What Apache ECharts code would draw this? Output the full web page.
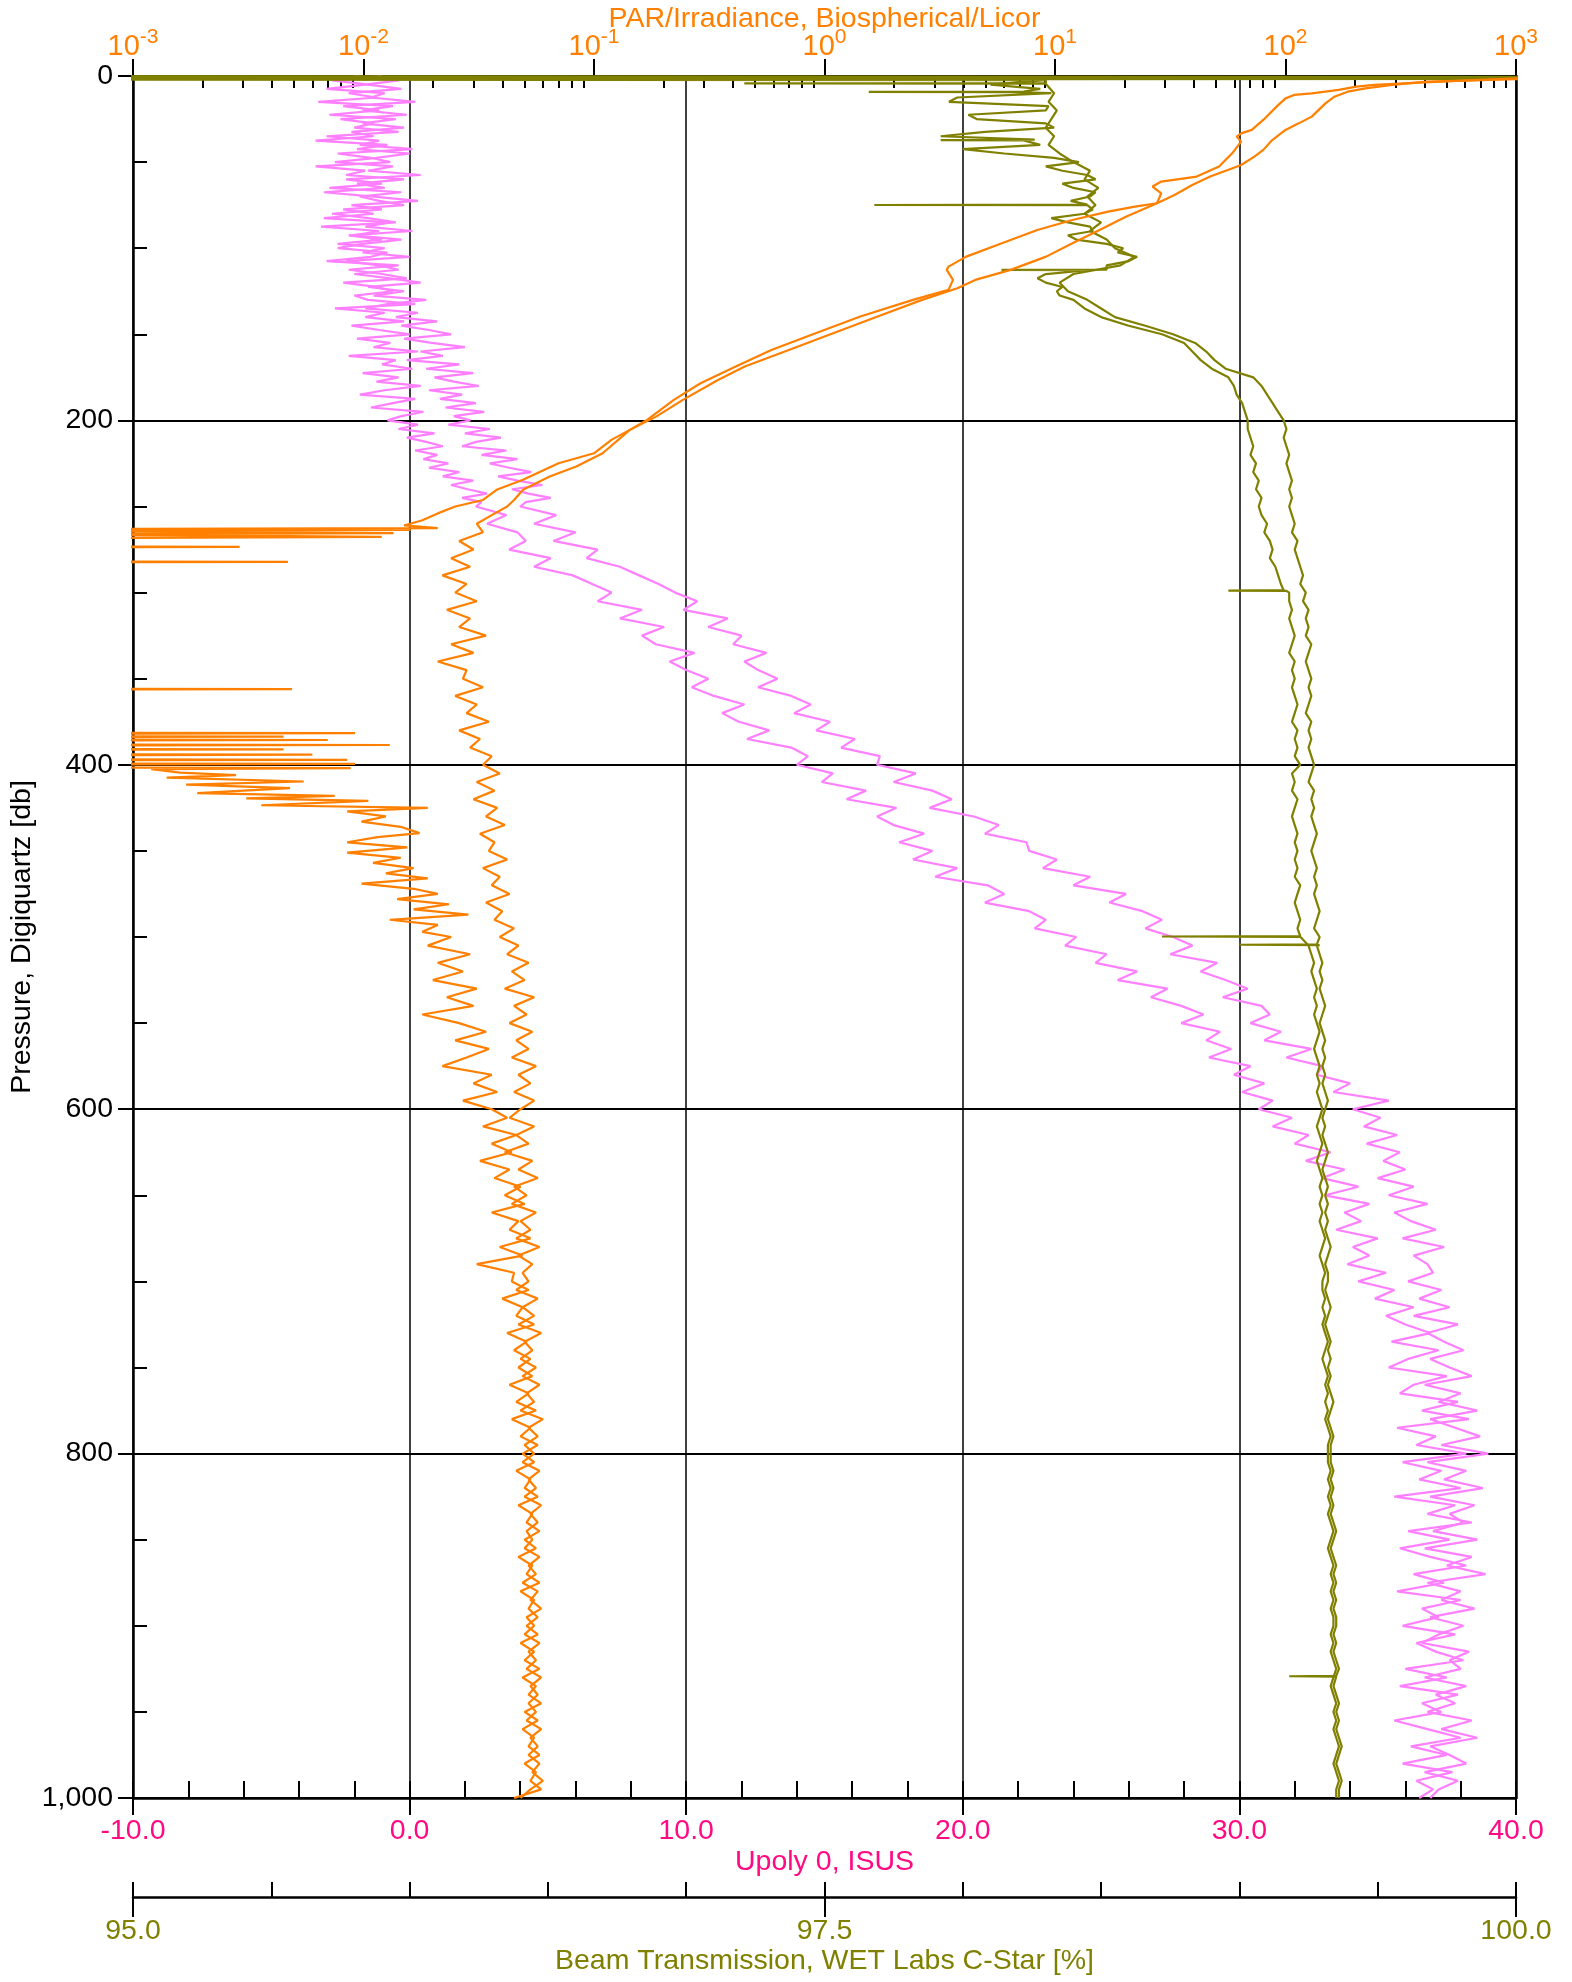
<!DOCTYPE html>
<html><head><meta charset="utf-8">
<script src="https://cdn.jsdelivr.net/npm/echarts@6/dist/echarts.min.js"></script>
<style>html,body{margin:0;padding:0;background:#fff}#c{width:1572px;height:1982px}</style>
</head><body><div id="c"></div><script>
// ---------------- DATA ----------------
const depth5 = [0,5,10,15,20,25,30,35,40,45,
50,55,60,65,70,75,80,85,90,95,
100,105,110,115,120,125,130,135,140,145,
150,155,160,165,170,175,180,185,190,195,
200,205,210,215,220,225,230,235,240,245,
250,255,260,265,270,275,280,285,290,295,
300,305,310,315,320,325,330,335,340,345,
350,355,360,365,370,375,380,385,390,395,
400,405,410,415,420,425,430,435,440,445,
450,455,460,465,470,475,480,485,490,495,
500,505,510,515,520,525,530,535,540,545,
550,555,560,565,570,575,580,585,590,595,
600,605,610,615,620,625,630,635,640,645,
650,655,660,665,670,675,680,685,690,695,
700,705,710,715,720,725,730,735,740,745,
750,755,760,765,770,775,780,785,790,795,
800,805,810,815,820,825,830,835,840,845,
850,855,860,865,870,875,880,885,890,895,
900,905,910,915,920,925,930,935,940,945,
950,955,960,965,970,975,980,985,990,995,
1000];
const depthTop = [0,2.5,5,7.5,10,12.5,15,17.5,20,22.5,
25,27.5,30,32.5,35,37.5,40,42.5,45,47.5,
50,52.5,55,57.5,60,62.5,65,67.5,70,72.5,
75,77.5,80,82.5,85,87.5,90,92.5,95,97.5,
100,102.5,105,107.5,110,112.5,115,117.5,120,122.5,
125,127.5,130,132.5,135,137.5,140,142.5,145,147.5,
150,152.5,155,157.5,160,162.5,165,167.5,170,172.5,
175,177.5,180,182.5,185,187.5,190,192.5,195,197.5,
200,202.5,205,207.5,210,212.5,215,217.5,220,222.5,
225,227.5,230,232.5,235,237.5,240,242.5,245,247.5];

// Upoly 0, ISUS, two casts: 0-247.5 db at depthTop, 250-1000 db at depth5
const upolyL_top = [-1.0,-2.8,-1.5,-0.3,-2.2,-1.2,-3.3,-0.6,-1.7,-0.1,
-2.5,-1.3,-2.0,-0.4,-3.0,-1.1,-1.8,0.1,-2.6,-1.4,
-0.7,-3.4,-1.6,-2.3,-0.2,-1.9,-0.9,-3.1,-1.3,0.3,
-2.1,-1.0,-2.8,-1.5,-0.5,-3.2,-1.1,-2.0,-0.3,-1.7,
-2.6,-0.8,-1.4,-3.0,-0.4,-2.2,-1.0,-0.1,-2.4,-1.2,
-0.6,-2.0,-1.5,0.2,-2.7,-0.9,-1.6,-0.2,-2.1,-1.1,
0.0,-1.9,-0.7,-1.3,0.3,-2.2,-0.5,-1.0,0.1,-1.7,
-0.4,-1.2,0.4,-0.9,-1.8,0.2,-0.6,-1.4,0.5,-0.3,
-0.8,0.3,-0.4,0.9,-0.1,0.6,1.2,0.2,1.0,0.5,
1.4,0.7,1.8,1.2,2.3,1.5,2.1,2.8,1.9,2.6];
const upolyL_deep = [2.4,3.5,2.8,3.9,4.2,3.6,5.1,4.5,5.9,6.6,
7.3,6.8,8.4,7.6,9.2,8.4,8.9,10.3,9.4,10.0,
10.8,10.2,11.0,12.1,11.3,11.9,13.0,12.2,13.8,14.4,
14.0,15.3,14.9,16.5,15.8,17.6,16.9,17.5,18.6,17.7,
18.9,18.2,19.8,19.0,20.9,21.5,20.8,22.4,23.0,22.6,
24.1,23.7,25.2,24.8,26.3,25.6,27.4,26.8,27.9,28.7,
27.9,29.3,28.8,29.7,28.9,30.4,29.8,30.9,30.1,31.2,
30.7,31.9,31.2,32.5,32.0,33.3,32.4,33.8,33.0,34.3,
33.1,34.7,33.8,34.4,33.5,35.0,34.1,34.7,33.9,35.3,
34.3,35.6,34.9,36.3,35.3,36.0,36.9,35.5,37.2,36.1,
35.4,37.5,36.3,35.8,37.9,36.6,38.3,35.7,37.1,36.4,
38.2,35.9,37.3,36.5,38.0,35.6,37.8,36.8,38.4,36.1,
37.6,35.8,36.9,38.2,36.3,37.4,35.7,38.0,36.6,37.2,
35.9,37.8,36.4,37.1,38.1,36.0,37.5,35.8,37.9,36.6,
37.3,35.6,36.8,38.0,36.2,37.5,35.9,37.7,36.4,37.0,
36.5];
const upolyR_top = [-2.0,-0.4,-1.6,-3.0,-0.9,-1.4,0.2,-2.4,-1.1,-2.9,
-0.5,-1.7,-0.2,-2.1,-1.3,-3.4,-0.8,-1.9,0.0,-1.2,
-2.7,-0.6,-1.5,0.4,-2.3,-1.0,-2.9,-0.3,-1.8,-1.1,
-0.2,-2.4,-1.3,-3.1,-0.7,-1.6,0.1,-2.2,-1.0,-2.6,
-0.9,-1.7,0.0,-2.3,-1.1,-0.4,-2.0,-0.7,0.4,-1.5,
-0.2,-1.3,0.6,-0.8,-1.6,0.3,-0.5,1.0,-0.3,0.7,
1.5,-0.2,0.8,2.0,0.4,1.2,-0.1,1.8,0.6,2.3,
0.9,1.6,2.5,0.7,1.9,1.1,2.4,1.3,2.7,1.6,
2.2,1.4,2.9,2.0,3.3,2.4,1.9,3.5,2.6,3.9,
2.9,3.6,4.4,3.2,3.9,4.8,3.7,4.3,5.1,4.2];
const upolyR_deep = [4.0,5.3,4.5,6.0,5.2,6.8,6.4,7.6,8.3,9.0,
9.6,10.4,9.9,11.5,10.8,12.0,11.7,12.9,12.1,12.6,
13.3,12.6,13.8,14.5,13.9,15.2,14.7,16.1,15.6,17.0,
16.9,18.3,17.5,18.9,19.6,18.8,20.4,21.3,20.8,22.3,
22.4,23.4,22.9,24.6,24.0,25.9,25.3,26.5,27.2,26.6,
27.6,28.3,27.5,29.2,28.6,29.5,30.3,29.4,30.8,31.1,
30.4,31.5,30.9,32.6,31.7,33.0,32.8,34.0,33.4,35.4,
34.1,35.1,34.5,35.7,34.6,35.8,35.2,36.0,35.0,36.3,
35.4,36.8,35.6,36.2,37.1,35.9,37.4,36.3,36.8,37.0,
36.1,37.3,36.5,37.6,36.3,37.9,36.8,37.4,38.1,36.9,
37.6,38.4,36.7,38.0,37.2,38.6,36.9,37.8,38.7,37.3,
39.0,36.8,38.2,37.4,38.8,36.9,38.5,37.6,38.1,37.0,
38.6,36.7,38.4,37.5,38.9,36.8,38.0,37.3,38.5,36.9,
38.1,37.2,36.6,38.3,37.6,38.0,36.7,38.2,37.1,37.8,
36.8,38.4,37.3,38.6,36.9,37.6,38.2,36.7,37.9,37.2,
36.9];

// Beam transmission [%], values at depth5 from 5 db down
const beamL = [98.10,98.32,97.95,98.30,98.05,98.33,97.92,98.28,98.15,98.42,
98.36,98.48,98.40,98.46,98.45,98.44,98.38,98.47,98.41,98.58,
98.63,98.52,98.30,98.30,98.34,98.40,98.44,98.50,98.60,98.72,
98.80,98.83,98.86,98.90,98.96,98.98,98.99,99.01,99.02,99.03,
99.03,99.04,99.05,99.04,99.06,99.05,99.07,99.06,99.08,99.07,
99.08,99.10,99.09,99.11,99.12,99.11,99.13,99.14,99.15,99.18,
99.18,99.19,99.18,99.19,99.20,99.19,99.18,99.20,99.19,99.20,
99.19,99.20,99.21,99.20,99.19,99.21,99.20,99.21,99.20,99.22,
99.19,99.20,99.19,99.21,99.20,99.19,99.20,99.21,99.20,99.21,
99.20,99.21,99.20,99.22,99.21,99.20,99.21,99.22,99.21,99.22,
99.25,99.26,99.27,99.26,99.27,99.28,99.27,99.28,99.27,99.28,
99.29,99.28,99.27,99.28,99.29,99.28,99.29,99.28,99.29,99.30,
99.29,99.28,99.29,99.30,99.29,99.28,99.29,99.30,99.29,99.30,
99.29,99.30,99.29,99.30,99.31,99.30,99.29,99.30,99.31,99.30,
99.30,99.31,99.30,99.31,99.30,99.31,99.32,99.31,99.30,99.31,
99.32,99.31,99.32,99.31,99.32,99.31,99.32,99.33,99.32,99.32,
99.32,99.33,99.32,99.33,99.32,99.33,99.32,99.33,99.34,99.33,
99.32,99.33,99.34,99.33,99.34,99.33,99.34,99.33,99.34,99.34,
99.33,99.34,99.33,99.34,99.35,99.34,99.33,99.34,99.35,99.34,
99.35,99.34,99.35,99.36,99.35,99.34,99.35,99.36,99.35,99.35];
const beamR = [98.30,98.33,98.31,98.34,98.32,98.30,98.33,98.31,98.35,98.40,
98.46,98.44,98.49,98.45,98.48,98.44,98.50,98.46,98.52,98.55,
98.62,98.57,98.40,98.35,98.38,98.45,98.50,98.55,98.66,98.76,
98.84,98.88,98.91,98.95,99.05,99.08,99.10,99.12,99.14,99.16,
99.17,99.16,99.17,99.18,99.17,99.18,99.19,99.18,99.19,99.18,
99.19,99.20,99.19,99.21,99.20,99.21,99.22,99.23,99.22,99.24,
99.23,99.25,99.24,99.25,99.24,99.26,99.25,99.24,99.25,99.26,
99.25,99.26,99.25,99.24,99.26,99.25,99.26,99.25,99.26,99.27,
99.26,99.25,99.27,99.26,99.27,99.26,99.27,99.28,99.27,99.26,
99.27,99.28,99.27,99.28,99.27,99.28,99.29,99.28,99.27,99.29,
99.28,99.29,99.30,99.29,99.30,99.29,99.30,99.31,99.30,99.29,
99.30,99.31,99.30,99.31,99.30,99.31,99.30,99.31,99.32,99.31,
99.30,99.31,99.30,99.31,99.32,99.31,99.30,99.31,99.32,99.31,
99.32,99.31,99.32,99.31,99.32,99.33,99.32,99.31,99.32,99.32,
99.31,99.32,99.33,99.32,99.31,99.32,99.33,99.32,99.33,99.32,
99.33,99.32,99.33,99.34,99.33,99.32,99.33,99.34,99.33,99.33,
99.33,99.34,99.33,99.34,99.33,99.34,99.33,99.34,99.35,99.34,
99.33,99.34,99.35,99.34,99.35,99.34,99.35,99.34,99.35,99.35,
99.34,99.35,99.34,99.35,99.36,99.35,99.34,99.35,99.36,99.35,
99.36,99.35,99.36,99.37,99.36,99.35,99.36,99.37,99.36,99.36];
// surface readings, extra near-surface scans and single-scan spikes: [pressure, beam]
const beamSurfL = [[0.1,94.5],[0.6,100.6],[1.1,94.8],[1.6,100.5],[2.1,94.9],[2.4,98.3]];
const beamSurfR = [[0.2,94.7],[0.9,100.4],[1.4,94.6],[2.0,98.3]];
const beamExtraL = [[7.5,98.28],[12.5,97.98],[17.5,98.31],[22.5,98.02],[27.5,98.30],[32.5,98.08],
  [42.5,98.00],[47.5,98.33],[52.5,98.30],[57.5,98.45],[62.5,98.36],[67.5,98.48],[72.5,98.39],
  [77.5,98.47],[82.5,98.32],[87.5,98.46],[92.5,98.38],[97.5,98.52],[102.5,98.56],[107.5,98.60],
  [117.5,98.27],[122.5,98.36],[127.5,98.35]];
const beamSpikesL = [[9.0,98.22],[9.2,97.66],[9.4,98.18],[37.0,98.26],[37.2,97.92],[37.4,98.22],
  [74.7,98.45],[74.9,97.68],[75.1,98.45],[112.4,98.52],[112.6,98.14],[112.8,98.45],
  [298.6,99.16],[298.8,98.96],[299.0,99.17],[499.5,99.22],[499.7,98.72],[499.9,99.22]];
const beamSpikesR = [[4.1,98.3],[4.3,97.21],[4.5,98.3],[504.3,99.28],[504.5,99.0],[504.7,99.29],
  [929.1,99.35],[929.3,99.18],[929.5,99.35]];

// PAR/Irradiance, cast A: [pressure, PAR] down to 497 db, then values at depth5 from 500
const parA_top = [[0.5,1500],[2.3,702],[3.9,378],[5.2,243],[6.2,203],[8.1,170],[10.1,130],[11.0,109],[13.0,100],[17.8,91.5],
[25.5,80.1],[31.3,71.4],[33.3,64.2],[35.2,61.4],[38.1,64.2],[44.9,58.7],[52.6,51.5],[58.4,41.2],[61.3,28.9],[64.2,26.5],
[68.1,28.9],[73.9,27.7],[75.9,22.2],[78.8,17.0],[83.6,11.9],[89.4,8.38],[97.1,5.88],[104.9,4.12],[110.7,3.45],[112.6,3.39],
[118.4,3.61],[124.2,3.45],[130.0,2.42],[139.7,1.43],[149.4,0.915],[159.1,0.588],[168.7,0.412],[178.4,0.29],[188.1,0.222],[199.7,0.170],
[205.5,0.143],[211.3,0.119],[219.1,0.100],[224.9,0.0702],[234.5,0.0492],[240.3,0.0378],[246.2,0.033],[250,0.025],[254,0.021],[258,0.018],
[261,0.015],[262.5,0.021],[263.2,0.0003],[263.6,0.016],[264.2,0.0003],[265.5,0.0135],[266.3,0.0003],[267,0.0035],[267.6,0.012],[268.5,0.0003],
[273.2,0.0003],[273.5,0.0029],[273.8,0.0003],[281.8,0.0003],[282.1,0.0047],[282.4,0.0003],[355.7,0.0003],[356,0.0049],[356.3,0.0003],
[381.3,0.0003],[381.6,0.0092],[382,0.0003],[383.3,0.0003],[383.6,0.0045],[384,0.0003],[385.3,0.0003],[385.6,0.007],[386,0.0003],
[388.2,0.0003],[388.5,0.013],[388.9,0.0003],[390.7,0.0003],[391,0.0045],[391.4,0.0003],[393.8,0.0003],[394.1,0.006],[394.5,0.0003],
[396.8,0.0003],[397.1,0.0085],[397.5,0.0003],[399.2,0.0003],[399.5,0.0092],[400,0.0003],[401.5,0.0003],[401.9,0.0088],[402.5,0.0012],
[404.5,0.0016],[406,0.0028],[407.5,0.0014],[409.7,0.0055],[411.5,0.0017],[413.5,0.0048],[416.4,0.0019],[418,0.0075],[419.5,0.0031],
[421,0.0105],[423.5,0.0036],[425,0.019],[427,0.0085],[430,0.0125],[433,0.0098],[436,0.0145],[439.7,0.0175],[442,0.0115],[445,0.0085],
[448,0.0155],[451,0.0085],[454,0.0145],[457,0.011],[460,0.0165],[463,0.0125],[466,0.019],[469,0.0098],[472,0.0165],[475,0.021],
[478,0.014],[481,0.0235],[484,0.0165],[487,0.0285],[490,0.013],[493,0.021],[497,0.018]];
const parA_deep = [0.024,0.019,0.029,0.021,0.027,0.020,0.031,0.023,0.030,0.018,
0.026,0.034,0.025,0.035,0.028,0.022,0.036,0.030,0.038,0.027,
0.036,0.042,0.033,0.046,0.036,0.044,0.032,0.043,0.037,0.048,
0.041,0.050,0.036,0.047,0.043,0.053,0.039,0.049,0.031,0.045,
0.044,0.052,0.040,0.049,0.046,0.055,0.042,0.051,0.045,0.053,
0.047,0.054,0.043,0.052,0.046,0.056,0.044,0.053,0.048,0.057,
0.049,0.055,0.046,0.053,0.050,0.057,0.047,0.054,0.051,0.058,
0.050,0.056,0.047,0.054,0.051,0.058,0.048,0.055,0.052,0.057,
0.051,0.057,0.048,0.055,0.050,0.058,0.049,0.056,0.052,0.059,
0.050,0.057,0.049,0.055,0.052,0.058,0.050,0.056,0.053,0.059,
0.045];
// PAR cast B: [pressure, PAR] down to 246 db, then values at depth5 from 250
const parB_top = [[0.5,1500],[1.9,1000],[3.3,412],[5.2,290],[7.2,222],[9.1,186],[12.0,163],[15.9,149],[23.6,130],[27.5,114],
[31.3,100],[37.2,87.6],[42.9,80.1],[46.8,73.3],[51.7,64.2],[54.6,56.2],[58.4,47.1],[63.3,39.4],[69.1,33.0],[73.9,27.7],
[81.7,20.3],[89.4,15.6],[97.1,11.9],[104.9,9.15],[112.6,6.42],[118.4,4.51],[123.3,3.77],[130.0,2.65],[139.7,1.70],[149.4,1.09],
[159.1,0.70],[168.7,0.451],[176.5,0.345],[188.1,0.243],[197.8,0.186],[205.5,0.143],[219.1,0.109],[226.8,0.0838],[232.6,0.0642],[240.3,0.0492],
[246.2,0.045]];
const parB_deep = [0.042,0.036,0.031,0.033,0.026,0.030,0.024,0.029,0.022,0.028,
0.025,0.031,0.023,0.029,0.026,0.034,0.024,0.030,0.021,0.028,
0.027,0.033,0.025,0.031,0.028,0.035,0.026,0.032,0.029,0.036,
0.033,0.039,0.031,0.037,0.030,0.038,0.034,0.041,0.032,0.037,
0.035,0.042,0.033,0.039,0.036,0.043,0.034,0.040,0.037,0.045,
0.039,0.047,0.042,0.052,0.044,0.050,0.041,0.055,0.045,0.051,
0.043,0.054,0.046,0.052,0.044,0.056,0.047,0.053,0.045,0.055,
0.048,0.043,0.055,0.046,0.052,0.041,0.054,0.047,0.057,0.045,
0.051,0.044,0.056,0.048,0.053,0.046,0.058,0.047,0.054,0.049,
0.052,0.046,0.057,0.049,0.055,0.047,0.059,0.050,0.054,0.048,
0.056,0.049,0.058,0.051,0.055,0.048,0.060,0.052,0.057,0.050,
0.055,0.049,0.058,0.052,0.056,0.050,0.059,0.053,0.057,0.051,
0.054,0.050,0.058,0.052,0.056,0.049,0.057,0.053,0.059,0.051,
0.055,0.050,0.058,0.052,0.056,0.051,0.059,0.053,0.057,0.052,
0.056,0.051,0.059,0.053,0.057,0.052,0.058,0.054,0.060,0.053,
0.048];

// axis ticks
const parExponents = [-3,-2,-1,0,1,2,3];
const beamLabelTicks = [95.0, 97.5, 100.0];

// ---------------- BUILD ----------------
const FONT = '"Liberation Sans", Arial, sans-serif';
const FS = 28.5;
const C_PINKLBL = '#FF0A82', C_PINK = '#FF80FF', C_ORANGE = '#FF8000', C_OLIVE = '#808000';

const onGrid = (vals, depths) => vals.map((v, i) => [v, depths[i]]);
const fromPairs = pairs => pairs.map(p => [p[1], p[0]]);
const merged = list => list.slice().sort((a, b) => a[0] - b[0]).map(p => [p[1], p[0]]);

const beamGridL = depth5.slice(1).map((d, i) => [d, beamL[i]]);
const beamGridR = depth5.slice(1).map((d, i) => [d, beamR[i]]);

const parMinorTicks = [];
for (let e = -3; e < 3; e++) for (let m = 2; m <= 9; m++) parMinorTicks.push(e + Math.log10(m));

const tickStyle = {color: '#000', width: 2};
const lineSeries = (data, xi, color, w) => ({
  type: 'line', xAxisIndex: xi, yAxisIndex: 0, data: data, showSymbol: false, symbol: 'none',
  lineStyle: {color: color, width: w}, itemStyle: {color: color}, clip: true, silent: true
});

const option = {
  animation: false,
  backgroundColor: '#ffffff',
  grid: {left: 133, right: 56, top: 76, bottom: 184, containLabel: false, outerBoundsMode: 'none'},
  xAxis: [
    { type: 'value', min: -10, max: 40, interval: 10, position: 'bottom',
      axisLine: {show: true, onZero: false, lineStyle: {color: '#000', width: 2.5}},
      axisTick: {show: true, inside: false, length: 17, lineStyle: tickStyle},
      axisLabel: {show: true, margin: 19, color: C_PINKLBL, fontSize: FS, fontFamily: FONT,
        formatter: v => v.toFixed(1), showMinLabel: true, showMaxLabel: true},
      splitLine: {show: true, lineStyle: {color: '#000', width: 1.5, type: 'solid'}},
      name: 'Upoly 0, ISUS', nameLocation: 'middle', nameGap: 50, nameMoveOverlap: false,
      nameTextStyle: {color: C_PINKLBL, fontSize: FS, fontFamily: FONT} },
    { type: 'value', min: -10, max: 40, interval: 2, position: 'bottom',
      axisLine: {show: false, onZero: false},
      axisTick: {show: true, inside: true, length: 17, lineStyle: tickStyle},
      axisLabel: {show: false}, splitLine: {show: false} },
    { type: 'log', logBase: 10, min: 0.001, max: 1000, splitNumber: 6, position: 'top',
      axisLine: {show: true, onZero: false, lineStyle: {color: '#000', width: 2.5}},
      axisTick: {show: true, inside: false, length: 17, lineStyle: tickStyle},
      axisLabel: {show: true, margin: 15, showMinLabel: true, showMaxLabel: true,
        formatter: v => { const e = parExponents.find(x => Math.abs(Math.log10(v) - x) < 1e-6); return '{b|10}{s|' + e + '}'; },
        rich: {
          b: {fontSize: 29, color: C_ORANGE, fontFamily: FONT, lineHeight: 34, verticalAlign: 'bottom'},
          s: {fontSize: 21, color: C_ORANGE, fontFamily: FONT, lineHeight: 21, verticalAlign: 'top'}
        }},
      splitLine: {show: false},
      name: 'PAR/Irradiance, Biospherical/Licor', nameLocation: 'middle', nameGap: 42, nameMoveOverlap: false,
      nameTextStyle: {color: C_ORANGE, fontSize: FS, fontFamily: FONT} },
    { type: 'value', min: -3, max: 3, position: 'top',
      axisLine: {show: false, onZero: false},
      axisTick: {show: true, inside: true, length: 12, customValues: parMinorTicks, lineStyle: tickStyle},
      axisLabel: {show: false}, splitLine: {show: false} },
    { type: 'value', min: 95, max: 100, interval: 0.5, position: 'bottom', offset: 99,
      axisLine: {show: true, onZero: false, lineStyle: {color: '#000', width: 2.5}},
      axisTick: {show: true, inside: true, length: 15, lineStyle: tickStyle},
      axisLabel: {show: true, margin: 20, color: C_OLIVE, fontSize: FS, fontFamily: FONT, showMinLabel: true, showMaxLabel: true,
        formatter: v => beamLabelTicks.some(t => Math.abs(t - v) < 1e-6) ? v.toFixed(1) : ''},
      splitLine: {show: false},
      name: 'Beam Transmission, WET Labs C-Star [%]', nameLocation: 'middle', nameGap: 50, nameMoveOverlap: false,
      nameTextStyle: {color: C_OLIVE, fontSize: FS, fontFamily: FONT} },
    { type: 'value', min: 95, max: 100, interval: 2.5, position: 'bottom', offset: 99,
      axisLine: {show: false, onZero: false},
      axisTick: {show: true, inside: false, length: 20, lineStyle: tickStyle},
      axisLabel: {show: false}, splitLine: {show: false} }
  ],
  yAxis: [
    { type: 'value', inverse: true, min: 0, max: 1000, interval: 200, position: 'left',
      axisLine: {show: true, onZero: false, lineStyle: {color: '#000', width: 2.5}},
      axisTick: {show: true, inside: false, length: 15, lineStyle: tickStyle},
      axisLabel: {show: true, margin: 20, color: '#000', fontSize: FS, fontFamily: FONT, showMinLabel: true, showMaxLabel: true},
      splitLine: {show: true, lineStyle: {color: '#000', width: 2, type: 'solid'}},
      name: 'Pressure, Digiquartz [db]', nameLocation: 'middle', nameGap: 96, nameMoveOverlap: false,
      nameTextStyle: {color: '#000', fontSize: FS, fontFamily: FONT} },
    { type: 'value', inverse: true, min: 0, max: 1000, interval: 50, position: 'left',
      axisLine: {show: false, onZero: false},
      axisTick: {show: true, inside: true, length: 14, lineStyle: tickStyle},
      axisLabel: {show: false}, splitLine: {show: false} },
    { type: 'value', inverse: true, min: 0, max: 1000, position: 'right',
      axisLine: {show: true, onZero: false, lineStyle: {color: '#000', width: 2.5}},
      axisTick: {show: false}, axisLabel: {show: false}, splitLine: {show: false} }
  ],
  series: [
    lineSeries(onGrid(upolyL_top, depthTop).concat(onGrid(upolyL_deep, depth5.slice(50))), 0, C_PINK, 2.2),
    lineSeries(onGrid(upolyR_top, depthTop).concat(onGrid(upolyR_deep, depth5.slice(50))), 0, C_PINK, 2.2),
    lineSeries(merged(beamSurfL.concat(beamGridL, beamExtraL, beamSpikesL)), 4, C_OLIVE, 2.2),
    lineSeries(merged(beamSurfR.concat(beamGridR, beamSpikesR)), 4, C_OLIVE, 2.2),
    lineSeries(fromPairs(parA_top).concat(onGrid(parA_deep, depth5.slice(100))), 2, C_ORANGE, 2.2),
    lineSeries(fromPairs(parB_top).concat(onGrid(parB_deep, depth5.slice(50))), 2, C_ORANGE, 2.2)
  ]
};
const chart = echarts.init(document.getElementById('c'), null, {renderer: 'canvas'});
chart.setOption(option);
</script></body></html>
